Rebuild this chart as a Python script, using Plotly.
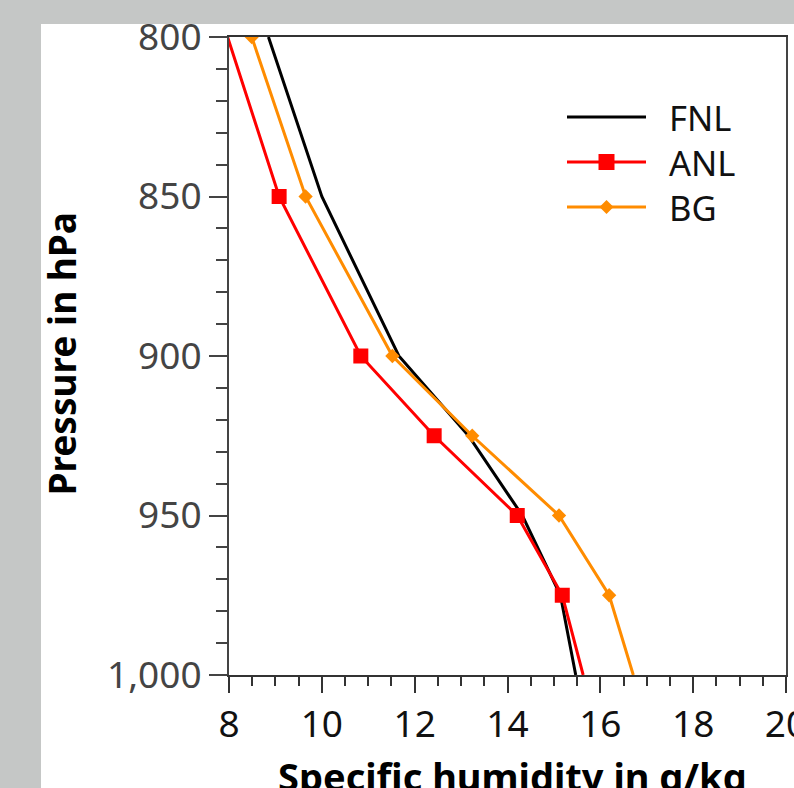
import plotly.graph_objects as go

# ---- data ----
levels = [800, 850, 900, 925, 950, 975, 1000]          # hPa
fnl = [8.85, 10.0, 11.66, 13.16, 14.32, 15.14, 15.47]   # g/kg
anl = [7.97, 9.08, 10.84, 12.42, 14.21, 15.18, 15.63]
bg = [8.49, 9.65, 11.52, 13.24, 15.11, 16.19, 16.71]

anl_marker_levels = [850, 900, 925, 950, 975]
bg_marker_levels = [800, 850, 900, 925, 950, 975]

series_names = ["FNL", "ANL", "BG"]
x_tickvals = [8, 10, 12, 14, 16, 18, 20]
y_tickvals = [800, 850, 900, 950, 1000]
y_ticktext = ["800", "850", "900", "950", "1,000"]

x_title = "Specific humidity in g/kg"
y_title = "Pressure in hPa"

FONT = "Noto Sans"
BLACK = "#000000"
RED = "#ff0000"
ORANGE = "#ff8c00"
GREY_BG = "#c5c7c6"

fig = go.Figure()

# FNL line
fig.add_trace(go.Scatter(x=fnl, y=levels, mode="lines", name=series_names[0],
                         line=dict(color=BLACK, width=3), showlegend=False))
# ANL line + markers
fig.add_trace(go.Scatter(x=anl, y=levels, mode="lines", name=series_names[1],
                         line=dict(color=RED, width=3), showlegend=False))
fig.add_trace(go.Scatter(x=[v for v, p in zip(anl, levels) if p in anl_marker_levels],
                         y=[p for p in levels if p in anl_marker_levels],
                         mode="markers", showlegend=False,
                         marker=dict(symbol="square", size=15, color=RED)))
# BG line + markers
fig.add_trace(go.Scatter(x=bg, y=levels, mode="lines", name=series_names[2],
                         line=dict(color=ORANGE, width=3), showlegend=False))
fig.add_trace(go.Scatter(x=[v for v, p in zip(bg, levels) if p in bg_marker_levels],
                         y=[p for p in levels if p in bg_marker_levels],
                         mode="markers", showlegend=False,
                         marker=dict(symbol="diamond", size=11, color=ORANGE)))

W, H = 794, 788
L, R, T, B = 229, 8, 37, 113
PW, PH = W - L - R, H - T - B


def px(xp):
    return (xp - L) / PW


def py(yp):
    return (H - B - yp) / PH


shapes = [
    # white page on grey background
    dict(type="rect", xref="paper", yref="paper", layer="below",
         x0=px(41), x1=px(W + 20), y0=py(H + 20), y1=py(24),
         fillcolor="white", line=dict(width=0)),
]
annotations = []

# custom legend (symbols)
leg_y = [117, 162, 207]
leg_colors = [BLACK, RED, ORANGE]
x0, x1, xm, xt = px(567), px(646), px(606.5), px(667)
for i, name in enumerate(series_names):
    yy = py(leg_y[i])
    shapes.append(dict(type="line", xref="paper", yref="paper", x0=x0, x1=x1, y0=yy, y1=yy,
                       line=dict(color=leg_colors[i], width=3)))
    if name == "ANL":
        hx, hy = 8 / PW, 8 / PH
        shapes.append(dict(type="rect", xref="paper", yref="paper",
                           x0=xm - hx, x1=xm + hx, y0=yy - hy, y1=yy + hy,
                           fillcolor=RED, line=dict(width=0)))
    elif name == "BG":
        hx, hy = 7 / PW, 7 / PH
        path = f"M{xm - hx},{yy} L{xm},{yy + hy} L{xm + hx},{yy} L{xm},{yy - hy} Z"
        shapes.append(dict(type="path", xref="paper", yref="paper", path=path,
                           fillcolor=ORANGE, line=dict(width=0)))

# legend labels as one multi-line text block
annotations.append(dict(text="<br>".join(series_names), xref="paper", yref="paper",
                        x=xt, y=py(leg_y[1]), xanchor="left", yanchor="middle", align="left",
                        showarrow=False,
                        font=dict(family=FONT, size=34.6, color="#111111")))

# axis titles
annotations.append(dict(text=x_title, xref="paper", yref="paper", x=px(512), y=py(748),
                        xanchor="center", yanchor="top", showarrow=False,
                        font=dict(family=FONT, size=38, color="#000000", weight=700)))
annotations.append(dict(text=y_title, xref="paper", yref="paper", x=px(61), y=py(353.5),
                        xanchor="center", yanchor="middle", showarrow=False, textangle=-90,
                        font=dict(family=FONT, size=37, color="#000000", weight=700)))

fig.update_layout(
    width=W, height=H,
    margin=dict(l=L, r=R, t=T, b=B, pad=0, autoexpand=False),
    paper_bgcolor=GREY_BG,
    plot_bgcolor="white",
    shapes=shapes,
    annotations=annotations,
    showlegend=False,
    xaxis=dict(range=[8, 20], tickvals=x_tickvals, ticks="outside", ticklen=16, tickwidth=2,
               tickcolor="#333", showgrid=False, zeroline=False, showline=True,
               linecolor="#333", linewidth=2, mirror=True, ticklabeloverflow="allow",
               automargin=False,
               tickfont=dict(family=FONT, size=37, color="#111111"),
               minor=dict(dtick=0.5, ticks="outside", ticklen=9, tickwidth=2, tickcolor="#333",
                          showgrid=False)),
    yaxis=dict(range=[1000, 800], tickvals=y_tickvals, ticktext=y_ticktext, ticks="outside",
               ticklen=18, tickwidth=2, tickcolor="#444", showgrid=False, zeroline=False,
               showline=True, linecolor="#444", linewidth=2, mirror=True, automargin=False,
               tickfont=dict(family=FONT, size=37, color="#444444"),
               minor=dict(dtick=10, ticks="outside", ticklen=11, tickwidth=2, tickcolor="#444",
                          showgrid=False)),
)

fig.write_html(
    "out.html",
    config={"displayModeBar": False},
    post_script=(
        "document.body.style.margin='0px';"
        "document.body.style.padding='0px';"
        "document.body.style.overflow='hidden';"
        "document.body.style.backgroundColor='" + GREY_BG + "';"
    ),
)
